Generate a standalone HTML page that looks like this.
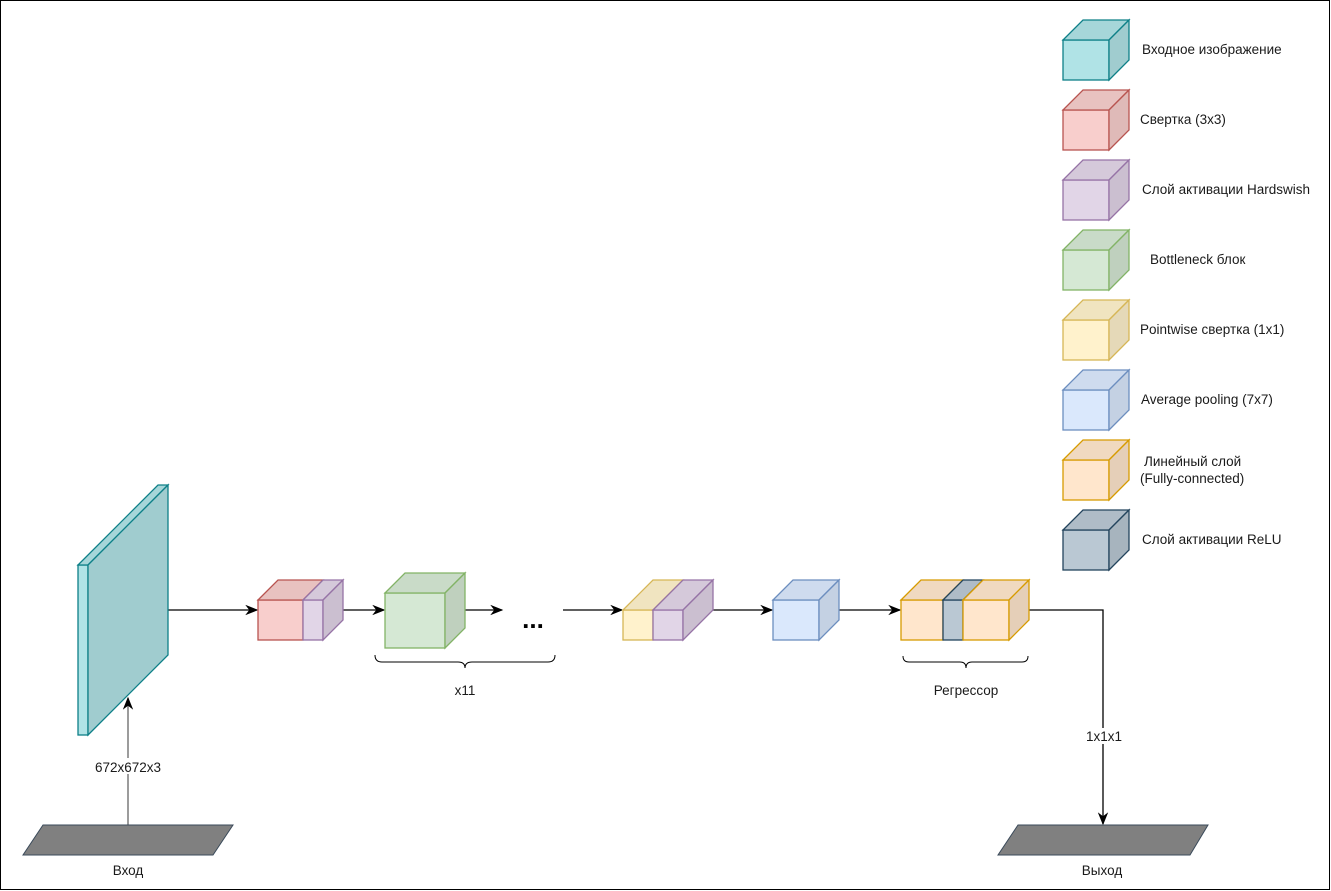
<!DOCTYPE html>
<html><head><meta charset="utf-8"><style>
html,body{margin:0;padding:0;background:#fff}
svg{display:block}
text{font-family:"Liberation Sans",Arial,sans-serif;font-size:13.5px;fill:#1a1a1a}
</style></head><body>
<svg width="1331" height="891" viewBox="0 0 1331 891" xmlns="http://www.w3.org/2000/svg">
<defs>
<marker id="ar" viewBox="0 0 10 10" refX="9" refY="5" markerWidth="10" markerHeight="10" orient="auto"><path d="M0,1 L10,5 L0,9 L3,5 Z" fill="#000"/></marker>
</defs>
<rect x="0.5" y="0.5" width="1329" height="889" fill="#fff" stroke="#000"/>

<!-- Legend -->
<g stroke-width="1.3">
<g stroke="#0e8088"><rect x="1063" y="40" width="46" height="40" fill="#b0e3e6"/><polygon points="1063,40 1083,20 1129,20 1109,40" fill="#a6d6d9"/><polygon points="1109,40 1129,20 1129,60 1109,80" fill="#a0cccf"/></g>
<g stroke="#b85450"><rect x="1063" y="110" width="46" height="40" fill="#f8cecc"/><polygon points="1063,110 1083,90 1129,90 1109,110" fill="#e8c2c0"/><polygon points="1109,110 1129,90 1129,130 1109,150" fill="#dfbab8"/></g>
<g stroke="#9673a6"><rect x="1063" y="180" width="46" height="40" fill="#e1d5e7"/><polygon points="1063,180 1083,160 1129,160 1109,180" fill="#d5c9da"/><polygon points="1109,180 1129,160 1129,200 1109,220" fill="#cbbfd0"/></g>
<g stroke="#82b366"><rect x="1063" y="250" width="46" height="40" fill="#d5e8d4"/><polygon points="1063,250 1083,230 1129,230 1109,250" fill="#c9dbc8"/><polygon points="1109,250 1129,230 1129,270 1109,290" fill="#bfd0be"/></g>
<g stroke="#d6b656"><rect x="1063" y="320" width="46" height="40" fill="#fff2cc"/><polygon points="1063,320 1083,300 1129,300 1109,320" fill="#f0e4c0"/><polygon points="1109,320 1129,300 1129,340 1109,360" fill="#e5d9b8"/></g>
<g stroke="#6c8ebf"><rect x="1063" y="390" width="46" height="40" fill="#dae8fc"/><polygon points="1063,390 1083,370 1129,370 1109,390" fill="#cedbee"/><polygon points="1109,390 1129,370 1129,410 1109,430" fill="#c4d1e3"/></g>
<g stroke="#d79b00"><rect x="1063" y="460" width="46" height="40" fill="#ffe6cc"/><polygon points="1063,460 1083,440 1129,440 1109,460" fill="#f0d9c0"/><polygon points="1109,460 1129,440 1129,480 1109,500" fill="#e5cfb8"/></g>
<g stroke="#23445d"><rect x="1063" y="530" width="46" height="40" fill="#bac8d3"/><polygon points="1063,530 1083,510 1129,510 1109,530" fill="#afbcc7"/><polygon points="1109,530 1129,510 1129,550 1109,570" fill="#a7b4be"/></g>
</g>
<text x="1142" y="54">Входное изображение</text>
<text x="1140" y="124">Свертка (3x3)</text>
<text x="1142" y="194">Слой активации Hardswish</text>
<text x="1150" y="264">Bottleneck блок</text>
<text x="1140" y="334">Pointwise свертка (1x1)</text>
<text x="1141" y="404">Average pooling (7x7)</text>
<text x="1144" y="466">Линейный слой</text>
<text x="1140" y="483">(Fully-connected)</text>
<text x="1142" y="544">Слой активации ReLU</text>

<!-- connectors -->
<g stroke="#000" stroke-width="1.3" fill="none">
<line x1="168" y1="610" x2="257" y2="610" marker-end="url(#ar)"/>
<line x1="343" y1="610" x2="384" y2="610" marker-end="url(#ar)"/>
<line x1="465" y1="610" x2="502" y2="610" marker-end="url(#ar)"/>
<line x1="563" y1="610" x2="622" y2="610" marker-end="url(#ar)"/>
<line x1="703" y1="610" x2="772" y2="610" marker-end="url(#ar)"/>
<line x1="834" y1="610" x2="900" y2="610" marker-end="url(#ar)"/>
<polyline points="1029,610 1103,610 1103,824" marker-end="url(#ar)"/>
<line x1="128" y1="825" x2="128" y2="698" stroke="#666" marker-end="url(#ar)"/>
</g>

<!-- input slab -->
<g stroke="#0e8088" stroke-width="1.3">
<rect x="78" y="565" width="10" height="170" fill="#b0e3e6"/>
<polygon points="78,565 158,485 168,485 88,565" fill="#a6d6d9"/>
<polygon points="88,565 168,485 168,655 88,735" fill="#a0cccf"/>
</g>

<g stroke-width="1.3">
<g stroke="#b85450"><rect x="258" y="600" width="45" height="40" fill="#f8cecc"/><polygon points="258,600 278,580 323,580 303,600" fill="#e8c2c0"/></g>
<g stroke="#9673a6"><rect x="303" y="600" width="20" height="40" fill="#e1d5e7"/><polygon points="303,600 323,580 343,580 323,600" fill="#d5c9da"/><polygon points="323,600 343,580 343,620 323,640" fill="#cbbfd0"/></g>
<g stroke="#82b366"><rect x="385" y="593" width="60" height="55" fill="#d5e8d4"/><polygon points="385,593 405,573 465,573 445,593" fill="#c9dbc8"/><polygon points="445,593 465,573 465,628 445,648" fill="#bfd0be"/></g>
<g stroke="#d6b656"><rect x="623" y="610" width="30" height="30" fill="#fff2cc"/><polygon points="623,610 653,580 683,580 653,610" fill="#f0e4c0"/></g>
<g stroke="#9673a6"><rect x="653" y="610" width="30" height="30" fill="#e1d5e7"/><polygon points="653,610 683,580 713,580 683,610" fill="#d5c9da"/><polygon points="683,610 713,580 713,610 683,640" fill="#cbbfd0"/></g>
<g stroke="#6c8ebf"><rect x="773" y="600" width="46" height="40" fill="#dae8fc"/><polygon points="773,600 793,580 839,580 819,600" fill="#cedbee"/><polygon points="819,600 839,580 839,620 819,640" fill="#c4d1e3"/></g>
<g stroke="#d79b00"><rect x="901" y="600" width="42" height="40" fill="#ffe6cc"/><polygon points="901,600 921,580 963,580 943,600" fill="#f0d9c0"/></g>
<g stroke="#23445d"><rect x="943" y="600" width="20" height="40" fill="#bac8d3"/><polygon points="943,600 963,580 983,580 963,600" fill="#afbcc7"/></g>
<g stroke="#d79b00"><rect x="963" y="600" width="46" height="40" fill="#ffe6cc"/><polygon points="963,600 983,580 1029,580 1009,600" fill="#f0d9c0"/><polygon points="1009,600 1029,580 1029,620 1009,640" fill="#e5cfb8"/></g>
</g>

<text x="533" y="628" text-anchor="middle" style="font-size:26px;font-weight:bold;fill:#000">...</text>

<g stroke="#000" stroke-width="1" fill="none">
<path d="M375,655 q0,7 7,7 H458 q7,0 7,6 q0,-6 7,-6 H548 q7,0 7,-7"/>
<path d="M903,656 q0,6 6,6 H960 q6,0 6,6 q0,-6 6,-6 H1022 q6,0 6,-6"/>
</g>
<text x="465" y="695" text-anchor="middle">x11</text>
<text x="966" y="695" text-anchor="middle">Регрессор</text>

<polygon points="43,825 233,825 213,855 23,855" fill="#808080" stroke="#3a4a5a"/>
<polygon points="1018,825 1208,825 1190,855 998,855" fill="#808080" stroke="#3a4a5a"/>
<rect x="92" y="758" width="74" height="16" fill="#fff"/>
<text x="128" y="772" text-anchor="middle">672x672x3</text>
<rect x="1083" y="728" width="42" height="16" fill="#fff"/>
<text x="1104" y="741" text-anchor="middle">1x1x1</text>
<text x="128" y="875" text-anchor="middle">Вход</text>
<text x="1102" y="875" text-anchor="middle">Выход</text>
</svg>
</body></html>
